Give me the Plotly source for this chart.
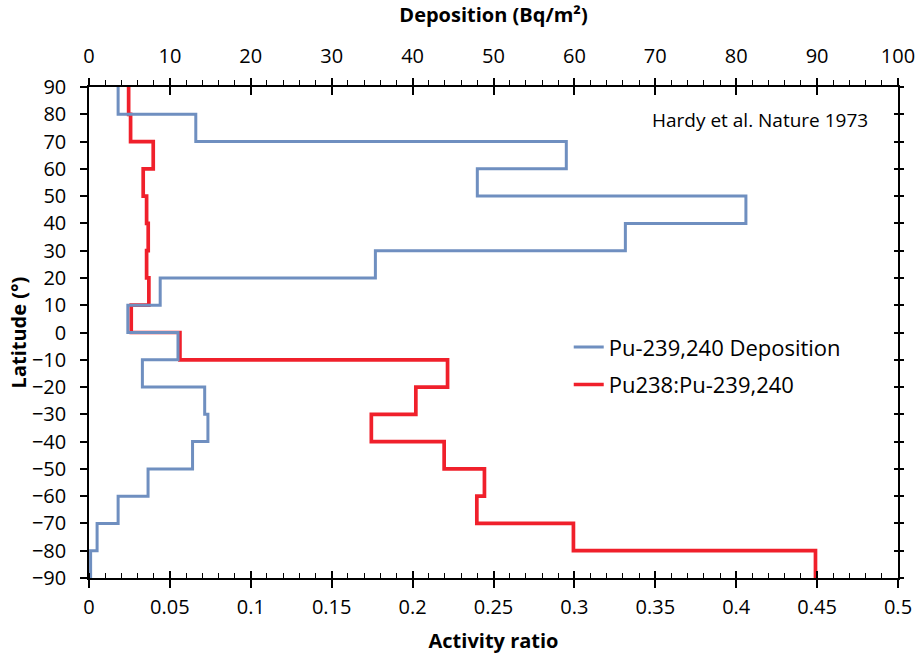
import plotly.graph_objects as go

# Latitude band edges (top to bottom)
lat_edges = [90, 80, 70, 60, 50, 40, 30, 20, 10, 0, -10, -20, -30, -40, -50, -60, -70, -80, -90]

# Pu-239,240 deposition (Bq/m2) per 10-degree band, from 90-80 down to -80--90
deposition = [3.6, 13.2, 59.0, 48.0, 81.2, 66.3, 35.4, 8.8, 4.8, 11.0,
              6.6, 14.3, 14.7, 12.8, 7.3, 3.6, 1.0, 0.2]

# Pu238:Pu-239,240 activity ratio per band
ratio = [0.0245, 0.0257, 0.0397, 0.0335, 0.0356, 0.0366, 0.0356, 0.0370, 0.0261, 0.0562,
         0.2216, 0.2020, 0.1745, 0.2195, 0.2444, 0.2397, 0.2994, 0.4490]

x_ticks = [0, 0.05, 0.1, 0.15, 0.2, 0.25, 0.3, 0.35, 0.4, 0.45, 0.5]
x_ticklabels = ["0", "0.05", "0.1", "0.15", "0.2", "0.25", "0.3", "0.35", "0.4", "0.45", "0.5"]
x2_ticks = [0, 10, 20, 30, 40, 50, 60, 70, 80, 90, 100]
y_ticks = list(range(-90, 91, 10))

FONT = "Open Sans, sans-serif"
BLUE = "#6F8FC0"
RED = "#F0202B"

fig = go.Figure()

fig.add_trace(go.Scatter(
    x=deposition + [deposition[-1]], y=lat_edges,
    mode="lines", line=dict(color=BLUE, width=3, shape="vh"),
    name="Pu-239,240 Deposition", legendgroup="a", xaxis="x2", yaxis="y"))

fig.add_trace(go.Scatter(
    x=ratio + [ratio[-1]], y=lat_edges,
    mode="lines", line=dict(color=RED, width=3.7, shape="vh"),
    name="Pu238:Pu-239,240", legendgroup="b", xaxis="x", yaxis="y"))

# dummy traces so overlay axes (tick crossings) are drawn
for xa, ya in [("x3", "y"), ("x4", "y"), ("x", "y2"), ("x", "y3")]:
    fig.add_trace(go.Scatter(x=[None], y=[None], xaxis=xa, yaxis=ya,
                             showlegend=False, hoverinfo="skip"))

axis_common = dict(showgrid=False, zeroline=False, linecolor="black", tickcolor="black",
                   automargin=False)

fig.update_layout(
    width=919, height=654,
    margin=dict(l=89, r=21, t=87, b=76),
    paper_bgcolor="white", plot_bgcolor="white",
    font=dict(family=FONT, size=18, color="black"),
    xaxis=dict(**axis_common, range=[0, 0.5], tickvals=x_ticks, ticktext=x_ticklabels,
               showline=True, linewidth=1.5, ticks="outside", ticklen=8, tickwidth=1.5,
               minor=dict(dtick=0.01, ticks="inside", ticklen=5, tickwidth=1.2, tickcolor="black"),
               tickfont=dict(size=20), anchor="y", ticklabelstandoff=2,
               title=dict(text="<b>Activity ratio</b>", font=dict(size=20), standoff=18)),
    xaxis3=dict(**axis_common, range=[0, 0.5], tickvals=x_ticks, showticklabels=False,
                showline=False, ticks="inside", ticklen=7, tickwidth=1.5,
                overlaying="x", side="bottom", anchor="y"),
    xaxis2=dict(**axis_common, range=[0, 100], tickvals=x2_ticks,
                showline=True, linewidth=1.5, ticks="outside", ticklen=7, tickwidth=1.5,
                minor=dict(dtick=2, ticks="outside", ticklen=5, tickwidth=1.2, tickcolor="black"),
                tickfont=dict(size=20), overlaying="x", side="top", anchor="y",
                ticklabelstandoff=7,
                title=dict(text="<b>Deposition (Bq/m²)</b>", font=dict(size=20), standoff=14)),
    xaxis4=dict(**axis_common, range=[0, 100], tickvals=x2_ticks, showticklabels=False,
                showline=False, ticks="inside", ticklen=8, tickwidth=1.5,
                overlaying="x", side="top", anchor="y"),
    yaxis=dict(**axis_common, range=[-90, 90], tickvals=y_ticks,
               showline=True, linewidth=1.5, ticks="outside", ticklen=7, tickwidth=1.5,
               tickfont=dict(size=20), anchor="x", ticklabelstandoff=10,
               title=dict(text="<b>Latitude (°)</b>", font=dict(size=20), standoff=0)),
    yaxis2=dict(**axis_common, range=[-90, 90], tickvals=y_ticks, showticklabels=False,
                showline=True, linewidth=1.5, ticks="outside", ticklen=4, tickwidth=1.5,
                overlaying="y", side="right", anchor="x"),
    yaxis3=dict(**axis_common, range=[-90, 90], tickvals=y_ticks, showticklabels=False,
                showline=False, ticks="inside", ticklen=4, tickwidth=1.5,
                overlaying="y", side="right", anchor="x"),
    legend=dict(x=0.593, y=0.513, xanchor="left", yanchor="top",
                bgcolor="rgba(0,0,0,0)", font=dict(size=22), tracegroupgap=6,
                itemwidth=30),
    annotations=[dict(text="Hardy et al. Nature 1973", xref="paper", yref="paper",
                      x=0.965, y=0.932, xanchor="right", yanchor="middle",
                      showarrow=False, font=dict(size=19))],
    showlegend=True,
)

fig.write_html("out.html")
